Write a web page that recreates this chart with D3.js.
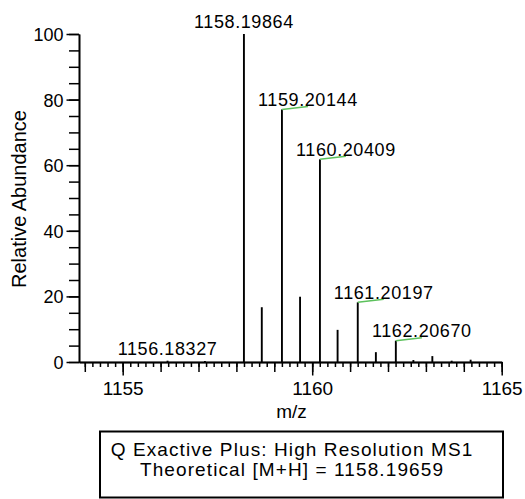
<!DOCTYPE html>
<html>
<head>
<meta charset="utf-8">
<script src="https://cdn.jsdelivr.net/npm/d3@7"></script>
<style>
    body { margin: 0; background: white; }
    svg { display: block; font-family: Arial, 'Liberation Sans', sans-serif; }
</style>
</head>
<body>
<script>

// peak list
const mzValues = [1156.18327, 1157.17, 1158.19864, 1158.67, 1159.20144, 1159.68, 1160.20409, 1160.67, 1161.20197, 1161.68, 1162.20670, 1162.67, 1163.17, 1163.68, 1164.18]
const abundance = [0.4, 0.3, 100, 16.7, 77.0, 19.9, 61.8, 9.8, 18.2, 3.0, 6.5, 0.6, 1.8, 0.4, 0.7]

// labelled peaks: 'top' = centred above, 'flag' = offset with green leader
const peakLabels = [
    {mz: 1156.18327, text: '1156.18327', style: 'top'},
    {mz: 1158.19864, text: '1158.19864', style: 'top'},
    {mz: 1159.20144, text: '1159.20144', style: 'flag'},
    {mz: 1160.20409, text: '1160.20409', style: 'flag'},
    {mz: 1161.20197, text: '1161.20197', style: 'flag'},
    {mz: 1162.20670, text: '1162.20670', style: 'flag'}
]

const xTickLabels = [1155, 1160, 1165]
const yTickLabels = [0, 20, 40, 60, 80, 100]
const xTitle = 'm/z'
const yTitle = 'Relative Abundance'
const noteLines = ['Q Exactive Plus: High Resolution MS1', 'Theoretical  [M+H] = 1158.19659']

const width = 525, height = 499

const svg = d3.select('body').append('svg')
    .attr('width', width)
    .attr('height', height)

const x = d3.scaleLinear().domain([1153.847, 1165]).range([79, 501.7])
const y = d3.scaleLinear().domain([0, 100]).range([362, 34])

const peaks = mzValues.map((m, i) => ({mz: m, ab: abundance[i]}))

function styleAxis(g){
    g.select('.domain').attr('stroke', 'black').attr('stroke-width', 1.6)
    g.selectAll('.tick line').attr('stroke', 'black').attr('stroke-width', 1.5)
    g.selectAll('text').attr('fill', 'black')
}

// y axis: minor ticks then labelled majors
svg.append('g')
    .attr('transform', 'translate(79,0)')
    .call(d3.axisLeft(y).tickValues(d3.range(0, 101, 5)).tickSize(10).tickSizeOuter(0).tickFormat(''))
    .call(styleAxis)

svg.append('g')
    .attr('transform', 'translate(79,0)')
    .call(d3.axisLeft(y).tickValues(yTickLabels).tickSize(12.5).tickSizeOuter(0).tickPadding(3))
    .call(styleAxis)
    .call(g => g.selectAll('text').style('font-size', '18px').attr('dy', '0.36em'))

// x axis: 0.2 minor, 1 medium, 5 major with labels
svg.append('g')
    .attr('transform', 'translate(0,362)')
    .call(d3.axisBottom(x).tickValues(d3.range(1154, 1165.01, 0.2)).tickSize(5).tickSizeOuter(0).tickFormat(''))
    .call(styleAxis)

svg.append('g')
    .attr('transform', 'translate(0,362)')
    .call(d3.axisBottom(x).tickValues(d3.range(1154, 1165.01, 1)).tickSize(10).tickSizeOuter(0).tickFormat(''))
    .call(styleAxis)

svg.append('g')
    .attr('transform', 'translate(0,362)')
    .call(d3.axisBottom(x).tickValues(xTickLabels).tickSize(13.5).tickSizeOuter(0).tickPadding(2).tickFormat(d3.format('d')))
    .call(styleAxis)
    .call(g => g.selectAll('text').style('font-size', '19px').attr('dy', '0.9em'))

// peaks as sticks
svg.append('g').selectAll('line')
    .data(peaks)
    .join('line')
    .attr('x1', d => x(d.mz))
    .attr('x2', d => x(d.mz))
    .attr('y1', y(0))
    .attr('y2', d => y(d.ab))
    .attr('stroke', 'black')
    .attr('stroke-width', 1.9)

// labels
const peakTop = m => y(abundance[mzValues.indexOf(m)])

const lab = svg.append('g').selectAll('g')
    .data(peakLabels)
    .join('g')

lab.filter(d => d.style === 'flag').append('line')
    .attr('x1', d => x(d.mz))
    .attr('y1', d => peakTop(d.mz))
    .attr('x2', d => x(d.mz) + 26)
    .attr('y2', d => peakTop(d.mz) - 3)
    .attr('stroke', '#5cc15c')
    .attr('stroke-width', 1.5)

lab.append('text')
    .attr('x', d => d.style === 'flag' ? x(d.mz) + 26 : x(d.mz))
    .attr('y', d => d.style === 'flag' ? peakTop(d.mz) - 3.5 : Math.min(peakTop(d.mz), 361) - 6)
    .attr('text-anchor', 'middle')
    .style('font-size', '18px')
    .style('letter-spacing', '0.6px')
    .text(d => d.text)

// axis titles
svg.append('text')
    .attr('x', 291.5)
    .attr('y', 418)
    .attr('text-anchor', 'middle')
    .style('font-size', '19px')
    .text(xTitle)

svg.append('text')
    .attr('transform', 'translate(26,199) rotate(-90)')
    .attr('text-anchor', 'middle')
    .style('font-size', '20px')
    .text(yTitle)

// instrument note box
svg.append('rect')
    .attr('x', 100)
    .attr('y', 431.5)
    .attr('width', 403)
    .attr('height', 66)
    .attr('fill', 'none')
    .attr('stroke', 'black')
    .attr('stroke-width', 2)

svg.append('g').selectAll('text')
    .data(noteLines)
    .join('text')
    .attr('x', 292)
    .attr('y', (d, i) => 456 + i * 20)
    .attr('text-anchor', 'middle')
    .style('font-size', '19px')
    .style('letter-spacing', '1.1px')
    .text(d => d)

</script>
</body>
</html>
